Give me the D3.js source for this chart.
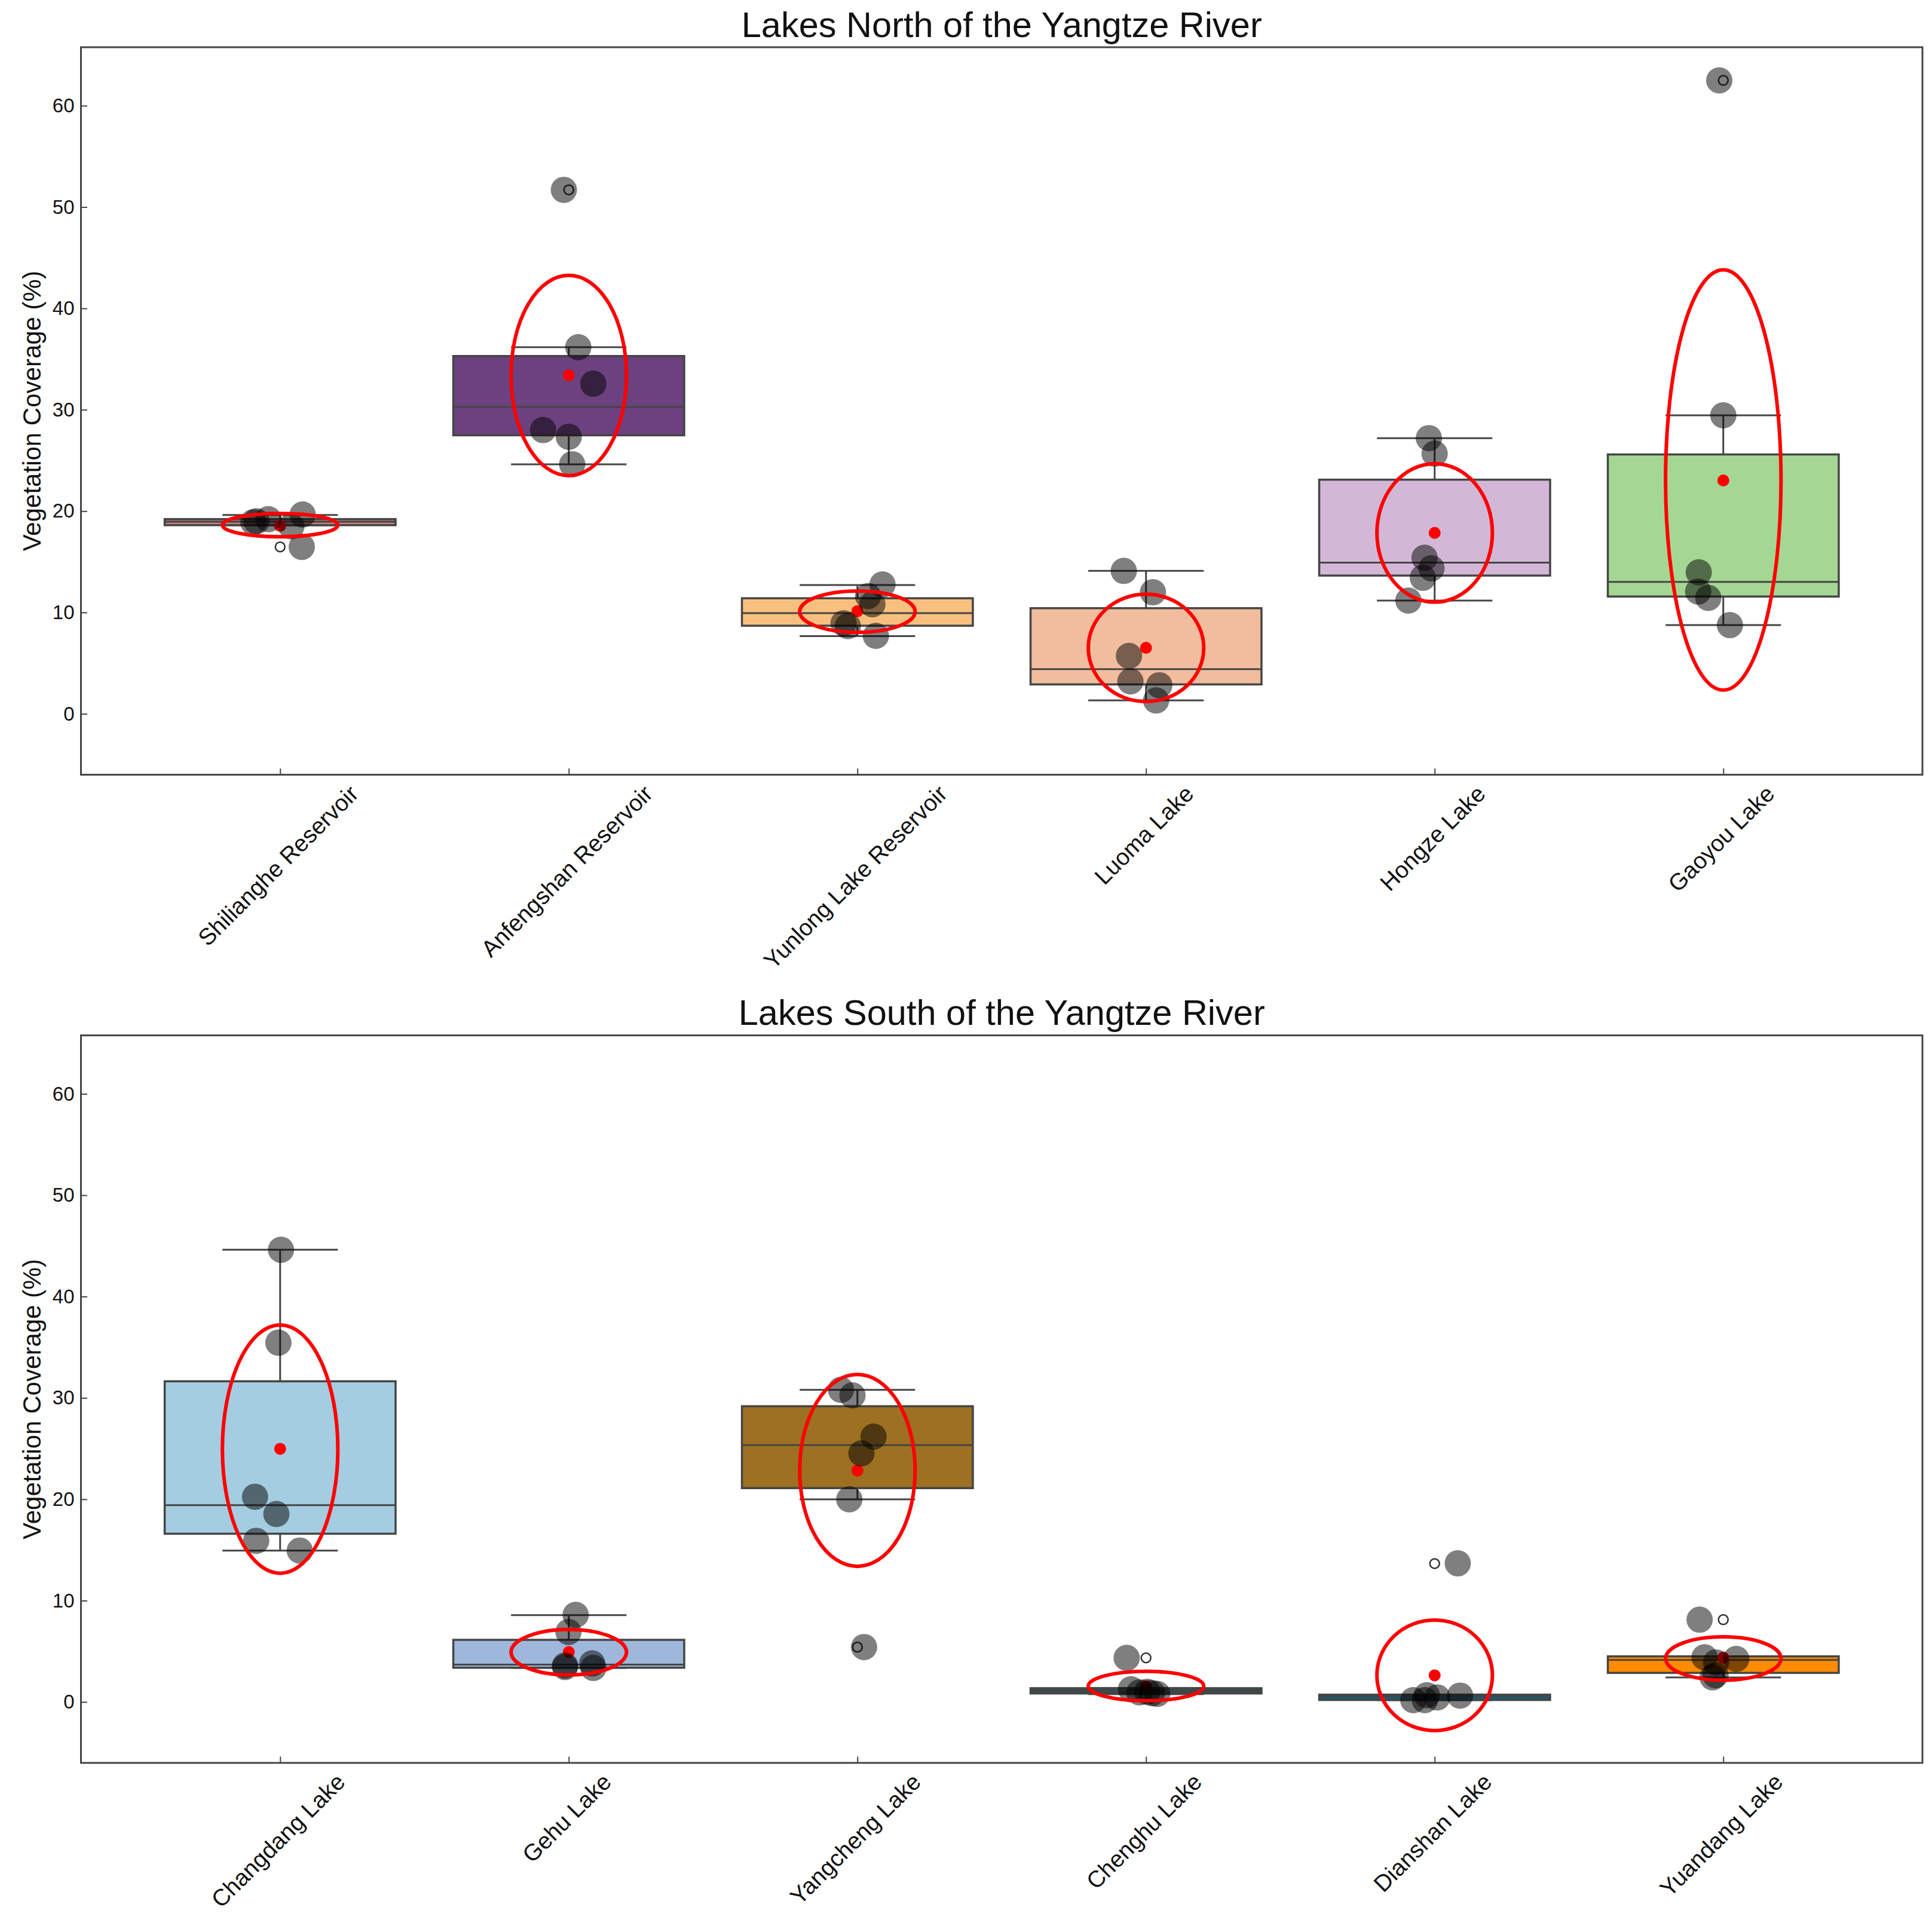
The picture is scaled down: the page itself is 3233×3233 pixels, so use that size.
<!DOCTYPE html>
<html>
<head>
<meta charset="utf-8">
<script src="https://cdn.jsdelivr.net/npm/d3@7"></script>
<style>
  html, body { margin: 0; padding: 0; background: #fff; }
  text { font-family: "Liberation Sans", Arial, sans-serif; fill: #111; }
</style>
</head>
<body>
<div id="chart"></div>
<script>
// values, one entry per lake, percent
const northLakes = ["Shilianghe Reservoir", "Anfengshan Reservoir", "Yunlong Lake Reservoir", "Luoma Lake", "Hongze Lake", "Gaoyou Lake"];
const northFill = ["#c27f7f", "#6b417f", "#f8c07f", "#f1bd9e", "#d2b8d6", "#a5d794"];
const northQ1 = [18.61, 27.48, 8.69, 2.9, 13.64, 11.57];
const northMedian = [18.95, 30.27, 9.93, 4.4, 14.92, 13.01];
const northQ3 = [19.21, 35.3, 11.4, 10.42, 23.1, 25.59];
const northLow = [18.6, 24.62, 7.67, 1.32, 11.17, 8.75];
const northHigh = [19.62, 36.17, 12.71, 14.1, 27.2, 29.45];
const northMean = [18.54, 33.4, 10.12, 6.51, 17.85, 23.02];
const northEllipseCentre = [18.62, 33.38, 10.08, 6.5, 17.85, 23.07];
const northEllipseHalf = [1.15, 9.88, 2.04, 5.3, 6.83, 20.73];
const northOutliers = [[16.47], [51.7], [], [], [], [62.5]];
const northPoints = [
  [18.9, 19.0, 19.2, 18.5, 19.66, 16.47],
  [51.7, 36.17, 32.57, 28.0, 27.33, 24.62],
  [12.76, 11.62, 10.81, 8.93, 8.65, 7.69],
  [14.1, 11.99, 5.72, 3.2, 2.82, 1.32],
  [27.2, 25.67, 15.4, 14.35, 13.42, 11.17],
  [62.5, 29.45, 13.96, 12.06, 11.44, 8.75]
];
const northJitter = [
  [-0.093, -0.082, -0.041, 0.039, 0.078, 0.075],
  [-0.017, 0.033, 0.085, -0.089, 0, 0.012],
  [0.087, 0.037, 0.052, -0.048, -0.033, 0.064],
  [-0.077, 0.024, -0.059, -0.054, 0.046, 0.035],
  [-0.02, 0, -0.035, -0.011, -0.041, -0.091],
  [-0.014, 0, -0.085, -0.087, -0.052, 0.023]
];

const southLakes = ["Changdang Lake", "Gehu Lake", "Yangcheng Lake", "Chenghu Lake", "Dianshan Lake", "Yuandang Lake"];
const southFill = ["#a5cde1", "#9fb7da", "#9e7022", "#2f4f4f", "#0d5f85", "#ff8c00"];
const southQ1 = [16.6, 3.38, 21.1, 0.84, 0.2, 2.87];
const southMedian = [19.41, 3.69, 25.35, 1.1, 0.55, 4.15];
const southQ3 = [31.64, 6.13, 29.18, 1.36, 0.72, 4.5];
const southLow = [14.94, 3.36, 19.99, 0.77, 0.18, 2.42];
const southHigh = [44.62, 8.57, 30.8, 1.36, 0.72, 4.5];
const southMean = [24.98, 4.93, 22.83, 1.55, 2.63, 4.36];
const southEllipseCentre = [24.95, 4.91, 22.85, 1.57, 2.63, 4.29];
const southEllipseHalf = [12.25, 2.24, 9.47, 1.45, 5.45, 2.14];
const southOutliers = [[], [], [5.42], [4.35], [13.65], [8.12]];
const southPoints = [
  [44.62, 35.45, 20.25, 18.55, 15.9, 14.94],
  [8.6, 6.9, 3.8, 3.36, 3.6, 3.45],
  [30.8, 30.25, 26.18, 24.53, 19.99, 5.42],
  [4.35, 1.25, 0.95, 1.0, 0.87, 0.8],
  [0.18, 0.18, 0.67, 0.45, 0.63, 13.68],
  [8.12, 4.41, 4.25, 3.9, 2.65, 2.43]
];
const southJitter = [
  [0.003, -0.006, -0.087, -0.013, -0.083, 0.068],
  [0.024, -0.001, 0.081, 0.085, -0.013, -0.013],
  [-0.057, -0.017, 0.056, 0.014, -0.028, 0.023],
  [-0.067, -0.052, -0.023, 0.004, 0.021, 0.039],
  [-0.074, -0.034, -0.027, 0.009, 0.088, 0.08],
  [-0.082, -0.065, 0.045, -0.025, -0.027, -0.037]
];

const yTicks = [0, 10, 20, 30, 40, 50, 60];
const lineColor = "#454545";

const size = 3233;
const svg = d3.select("#chart").append("svg")
  .attr("width", size)
  .attr("height", size)
  .style("display", "block");

const left = 135.5, right = 3217, panelHeight = 1217.4;
const x = d3.scaleLinear().domain([-0.69, 5.69]).range([left, right]);

function drawPanel(top, titleText, p) {
  const bottom = top + panelHeight;
  const y = d3.scaleLinear().domain([-6.01, 65.77]).range([bottom, top]);
  const g = svg.append("g");
  const idx = d3.range(p.lakes.length);

  // whiskers and caps first, boxes go on top of them
  const whisk = g.append("g").attr("stroke", lineColor).attr("stroke-width", 3);
  whisk.selectAll("line.up").data(idx).join("line").attr("class", "up")
    .attr("x1", i => x(i)).attr("x2", i => x(i))
    .attr("y1", i => y(p.q3[i])).attr("y2", i => y(p.high[i]));
  whisk.selectAll("line.down").data(idx).join("line").attr("class", "down")
    .attr("x1", i => x(i)).attr("x2", i => x(i))
    .attr("y1", i => y(p.q1[i])).attr("y2", i => y(p.low[i]));
  whisk.selectAll("line.capHi").data(idx).join("line").attr("class", "capHi")
    .attr("x1", i => x(i - 0.2)).attr("x2", i => x(i + 0.2))
    .attr("y1", i => y(p.high[i])).attr("y2", i => y(p.high[i]));
  whisk.selectAll("line.capLo").data(idx).join("line").attr("class", "capLo")
    .attr("x1", i => x(i - 0.2)).attr("x2", i => x(i + 0.2))
    .attr("y1", i => y(p.low[i])).attr("y2", i => y(p.low[i]));

  g.selectAll("rect.box").data(idx).join("rect").attr("class", "box")
    .attr("x", i => x(i - 0.4))
    .attr("width", i => x(i + 0.4) - x(i - 0.4))
    .attr("y", i => y(p.q3[i]))
    .attr("height", i => y(p.q1[i]) - y(p.q3[i]))
    .attr("fill", i => p.fill[i])
    .attr("stroke", lineColor)
    .attr("stroke-width", 3.5);

  g.selectAll("line.median").data(idx).join("line").attr("class", "median")
    .attr("x1", i => x(i - 0.4)).attr("x2", i => x(i + 0.4))
    .attr("y1", i => y(p.median[i])).attr("y2", i => y(p.median[i]))
    .attr("stroke", lineColor).attr("stroke-width", 3);

  // outlier rings
  const rings = idx.flatMap(i => p.outliers[i].map(v => ({ i, v })));
  g.selectAll("circle.flier").data(rings).join("circle").attr("class", "flier")
    .attr("cx", d => x(d.i)).attr("cy", d => y(d.v))
    .attr("r", 8)
    .attr("fill", "none")
    .attr("stroke", "#333")
    .attr("stroke-width", 2.5);

  g.selectAll("circle.mean").data(idx).join("circle").attr("class", "mean")
    .attr("cx", i => x(i)).attr("cy", i => y(p.mean[i]))
    .attr("r", 10)
    .attr("fill", "#ff0000");

  const pts = idx.flatMap(i => p.points[i].map((v, k) => ({ i, v, dx: p.jitter[i][k] })));
  g.selectAll("circle.point").data(pts).join("circle").attr("class", "point")
    .attr("cx", d => x(d.i + d.dx)).attr("cy", d => y(d.v))
    .attr("r", 22)
    .attr("fill", "#000")
    .attr("fill-opacity", 0.5);

  g.selectAll("ellipse").data(idx).join("ellipse")
    .attr("cx", i => x(i))
    .attr("cy", i => y(p.ellipseCentre[i]))
    .attr("rx", i => x(i + 0.2) - x(i))
    .attr("ry", i => y(0) - y(p.ellipseHalf[i]))
    .attr("fill", "none")
    .attr("stroke", "#ff0000")
    .attr("stroke-width", 6);

  // frame
  g.append("rect")
    .attr("x", left).attr("y", top)
    .attr("width", right - left).attr("height", panelHeight)
    .attr("fill", "none")
    .attr("stroke", lineColor)
    .attr("stroke-width", 3);

  const yAxis = g.append("g")
    .attr("transform", `translate(${left},0)`)
    .call(d3.axisLeft(y).tickValues(yTicks).tickSizeInner(-10.5).tickSizeOuter(0).tickPadding(11));
  yAxis.select(".domain").remove();
  yAxis.selectAll(".tick line").attr("stroke", lineColor).attr("stroke-width", 2);
  yAxis.selectAll(".tick text").attr("font-size", 33).attr("font-family", null);

  const xAxis = g.append("g")
    .attr("transform", `translate(0,${bottom})`)
    .call(d3.axisBottom(x).tickValues(idx).tickFormat(i => p.lakes[i]).tickSizeInner(-10.5).tickSizeOuter(0));
  xAxis.select(".domain").remove();
  xAxis.selectAll(".tick line").attr("stroke", lineColor).attr("stroke-width", 2);
  // rotated labels: centred on the tick, top of the rotated box a fixed gap below the axis
  xAxis.selectAll(".tick text")
    .attr("font-size", 39)
    .attr("font-family", null)
    .attr("text-anchor", "middle")
    .attr("dy", "0.35em")
    .attr("y", 0)
    .attr("transform", function () {
      const half = (this.getComputedTextLength() + 39) * Math.SQRT1_2 / 2;
      return `translate(-4,${11 + half}) rotate(-45)`;
    });

  g.append("text")
    .attr("x", (left + right) / 2)
    .attr("y", top - 17.5)
    .attr("text-anchor", "middle")
    .attr("font-size", 59.5)
    .text(titleText);

  g.append("text")
    .attr("transform", `translate(68,${(top + bottom) / 2}) rotate(-90)`)
    .attr("text-anchor", "middle")
    .attr("font-size", 42)
    .text("Vegetation Coverage (%)");
}

drawPanel(79, "Lakes North of the Yangtze River", {
  lakes: northLakes, fill: northFill, q1: northQ1, median: northMedian, q3: northQ3,
  low: northLow, high: northHigh, mean: northMean, ellipseCentre: northEllipseCentre,
  ellipseHalf: northEllipseHalf, outliers: northOutliers, points: northPoints, jitter: northJitter
});
drawPanel(1732.6, "Lakes South of the Yangtze River", {
  lakes: southLakes, fill: southFill, q1: southQ1, median: southMedian, q3: southQ3,
  low: southLow, high: southHigh, mean: southMean, ellipseCentre: southEllipseCentre,
  ellipseHalf: southEllipseHalf, outliers: southOutliers, points: southPoints, jitter: southJitter
});
</script>
</body>
</html>
